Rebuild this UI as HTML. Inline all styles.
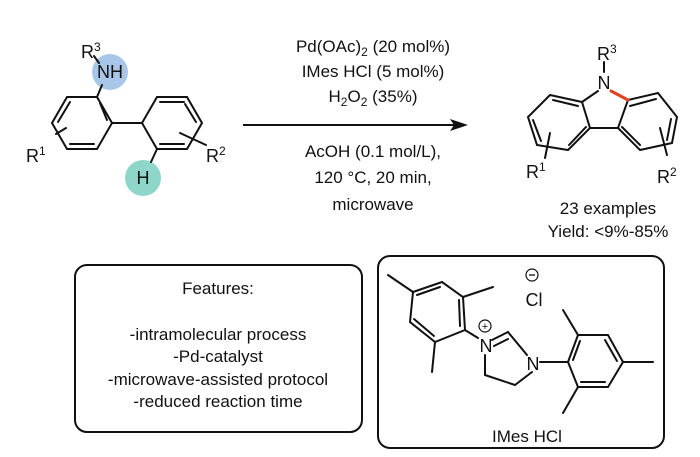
<!DOCTYPE html>
<html><head><meta charset="utf-8"><style>
html,body{margin:0;padding:0;background:#fff;}
svg{display:block;}
text{font-family:"Liberation Sans",sans-serif;fill:#111;}
</style></head><body>
<svg width="700" height="457" viewBox="0 0 700 457" xmlns="http://www.w3.org/2000/svg">
<!-- left molecule -->
<circle cx="110" cy="72" r="18" fill="#a8c7e8"/>
<circle cx="143" cy="178" r="18" fill="#8dd6c9"/>
<g stroke="#111" stroke-width="2" fill="none" stroke-linecap="round">
<line x1="94" y1="56" x2="99" y2="63"/>
<line x1="97" y1="97" x2="102" y2="85"/>
<polygon points="97,97 67,97 52,123 67,149 97,149 112,123"/>
<line x1="58" y1="122" x2="70" y2="102"/>
<line x1="70" y1="144" x2="94" y2="144"/>
<line x1="100" y1="103" x2="107" y2="120"/>
<line x1="112" y1="123" x2="142" y2="123"/>
<polygon points="142,123 157,97 187,97 202,123 187,149 157,149"/>
<line x1="160" y1="102" x2="184" y2="102"/>
<line x1="196" y1="122" x2="185" y2="104"/>
<line x1="160" y1="144" x2="184" y2="144"/>
<line x1="157" y1="149" x2="151" y2="162"/>
<line x1="56" y1="134" x2="66" y2="128"/>
<line x1="180" y1="133" x2="206" y2="145"/>
</g>
<text x="81" y="58" font-size="18">R<tspan font-size="12" dy="-7">3</tspan></text>
<text x="110" y="78" font-size="18" text-anchor="middle">NH</text>
<text x="143" y="184" font-size="18" text-anchor="middle">H</text>
<text x="26" y="162" font-size="18">R<tspan font-size="12" dy="-7">1</tspan></text>
<text x="206" y="162" font-size="18">R<tspan font-size="12" dy="-7">2</tspan></text>

<!-- conditions -->
<g font-size="17" text-anchor="middle">
<text x="373" y="52">Pd(OAc)<tspan font-size="12" dy="4">2</tspan><tspan dy="-4"> (20 mol%)</tspan></text>
<text x="373" y="77">IMes HCl (5 mol%)</text>
<text x="373" y="102">H<tspan font-size="12" dy="4">2</tspan><tspan dy="-4">O</tspan><tspan font-size="12" dy="4">2</tspan><tspan dy="-4"> (35%)</tspan></text>
<text x="373" y="157">AcOH (0.1 mol/L),</text>
<text x="373" y="183">120 °C, 20 min,</text>
<text x="373" y="210">microwave</text>
</g>
<line x1="243" y1="125" x2="455" y2="125" stroke="#111" stroke-width="2"/>
<polygon points="468,125 450,119 454,125 450,131" fill="#111"/>

<!-- carbazole -->
<g stroke="#111" stroke-width="2" fill="none" stroke-linecap="round">
<line x1="604" y1="62" x2="604" y2="72"/>
<line x1="598" y1="91" x2="582" y2="102"/>
<polygon points="582,102 590,128 568,150 537,145 528,117 550,95"/>
<line x1="553" y1="100" x2="578" y2="106"/>
<line x1="533" y1="120" x2="541" y2="141"/>
<line x1="569" y1="145" x2="586" y2="127"/>
<line x1="590" y1="128" x2="618" y2="128"/>
<polygon points="628,100 658,93 677,117 672,143 640,150 618,128"/>
<line x1="630" y1="106" x2="656" y2="99"/>
<line x1="671" y1="119" x2="667" y2="140"/>
<line x1="622" y1="127" x2="640" y2="145"/>
<line x1="550" y1="133" x2="545" y2="158"/>
<line x1="660" y1="128" x2="667" y2="155"/>
</g>
<line x1="611" y1="91" x2="628" y2="100" stroke="#e2411f" stroke-width="3" stroke-linecap="round"/>
<text x="604" y="89" font-size="18" text-anchor="middle">N</text>
<text x="597" y="60" font-size="18">R<tspan font-size="12" dy="-7">3</tspan></text>
<text x="526" y="178" font-size="18">R<tspan font-size="12" dy="-7">1</tspan></text>
<text x="657" y="183" font-size="18">R<tspan font-size="12" dy="-7">2</tspan></text>
<text x="608" y="214" font-size="17" text-anchor="middle">23 examples</text>
<text x="608" y="237" font-size="17" text-anchor="middle">Yield: &lt;9%-85%</text>

<!-- features box -->
<rect x="75" y="265" width="287" height="167" rx="12" fill="none" stroke="#111" stroke-width="2"/>
<g font-size="17" text-anchor="middle">
<text x="218" y="294">Features:</text>
<text x="218" y="340">-intramolecular process</text>
<text x="218" y="362">-Pd-catalyst</text>
<text x="218" y="385">-microwave-assisted protocol</text>
<text x="218" y="407">-reduced reaction time</text>
</g>

<!-- IMes box -->
<rect x="378" y="256" width="286" height="192" rx="12" fill="none" stroke="#111" stroke-width="2"/>
<g stroke="#111" stroke-width="2" fill="none" stroke-linecap="round">
<polygon points="413,292 442,282 463,297 465,330 435,342 410,322"/>
<line x1="417" y1="295" x2="440" y2="287"/>
<line x1="459" y1="300" x2="460" y2="326"/>
<line x1="414" y1="319" x2="434" y2="336"/>
<line x1="413" y1="292" x2="388" y2="275"/>
<line x1="463" y1="297" x2="493" y2="287"/>
<line x1="435" y1="342" x2="432" y2="372"/>
<line x1="465" y1="330" x2="478" y2="338"/>
<line x1="492" y1="340" x2="508" y2="332"/>
<line x1="494" y1="346" x2="508" y2="339"/>
<line x1="508" y1="332" x2="527" y2="355"/>
<line x1="532" y1="372" x2="515" y2="385"/>
<line x1="515" y1="385" x2="485" y2="375"/>
<line x1="485" y1="375" x2="485" y2="355"/>
<line x1="540" y1="362" x2="568" y2="362"/>
<polygon points="568,362 578,335 608,335 623,362 608,387 578,387"/>
<line x1="580" y1="341" x2="573" y2="360"/>
<line x1="605" y1="340" x2="617" y2="361"/>
<line x1="581" y1="382" x2="605" y2="382"/>
<line x1="578" y1="335" x2="563" y2="310"/>
<line x1="623" y1="362" x2="653" y2="362"/>
<line x1="578" y1="387" x2="563" y2="413"/>
</g>
<circle cx="485" cy="326" r="6" fill="none" stroke="#111" stroke-width="1.2"/>
<text x="485" y="330" font-size="11" text-anchor="middle">+</text>
<circle cx="532" cy="275" r="6" fill="none" stroke="#111" stroke-width="1.2"/>
<line x1="529" y1="275" x2="535" y2="275" stroke="#111" stroke-width="1.3"/>
<text x="486" y="352" font-size="18" text-anchor="middle">N</text>
<text x="533" y="370" font-size="18" text-anchor="middle">N</text>
<text x="534" y="306" font-size="18" text-anchor="middle">Cl</text>
<text x="527" y="442" font-size="17" text-anchor="middle">IMes HCl</text>
</svg>
</body></html>
